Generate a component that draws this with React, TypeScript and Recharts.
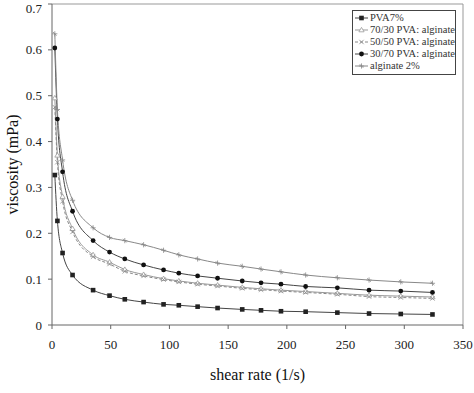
import React from 'react';
import { LineChart, Line, XAxis, YAxis, ReferenceLine } from 'recharts';

const shearRate = [2.4, 4.6, 9, 17.5, 35, 49, 62, 78, 95, 108, 124, 141, 162, 178, 195, 216, 243, 270, 297, 324];
const pva7 = [0.327, 0.227, 0.157, 0.109, 0.076, 0.064, 0.056, 0.05, 0.045, 0.043, 0.04, 0.037, 0.034, 0.032, 0.03, 0.029, 0.027, 0.025, 0.024, 0.023];
const pva7030 = [0.495, 0.37, 0.28, 0.21, 0.153, 0.137, 0.121, 0.11, 0.101, 0.096, 0.091, 0.087, 0.082, 0.079, 0.076, 0.073, 0.069, 0.065, 0.063, 0.061];
const pva5050 = [0.475, 0.355, 0.27, 0.203, 0.149, 0.133, 0.117, 0.107, 0.099, 0.094, 0.089, 0.085, 0.08, 0.077, 0.074, 0.071, 0.067, 0.062, 0.06, 0.058];
const pva3070 = [0.604, 0.449, 0.334, 0.248, 0.184, 0.159, 0.144, 0.131, 0.12, 0.113, 0.107, 0.102, 0.096, 0.092, 0.089, 0.084, 0.081, 0.076, 0.074, 0.071];
const alginate2 = [0.635, 0.47, 0.36, 0.272, 0.212, 0.191, 0.184, 0.175, 0.163, 0.153, 0.144, 0.135, 0.128, 0.122, 0.116, 0.109, 0.103, 0.098, 0.094, 0.091];

const xTicks = [0, 50, 100, 150, 200, 250, 300, 350];
const yTicks = [0, 0.1, 0.2, 0.3, 0.4, 0.5, 0.6, 0.7];

const data = shearRate.map((x, i) => ({
  x,
  pva7: pva7[i],
  p7030: pva7030[i],
  p5050: pva5050[i],
  p3070: pva3070[i],
  alg: alginate2[i],
}));

const font = '"Liberation Serif", "DejaVu Serif", serif';

function marker(kind, cx, cy, color) {
  switch (kind) {
    case 'square':
      return <rect x={cx - 2.3} y={cy - 2.3} width={4.6} height={4.6} fill={color} />;
    case 'circle':
      return <circle cx={cx} cy={cy} r={2.4} fill={color} />;
    case 'triangle':
      return <polygon points={`${cx},${cy - 2.6} ${cx + 2.6},${cy + 1.8} ${cx - 2.6},${cy + 1.8}`} fill="#fff" stroke={color} strokeWidth={0.8} />;
    case 'cross':
      return (
        <g stroke={color} strokeWidth={0.8}>
          <line x1={cx - 2.2} y1={cy - 2.2} x2={cx + 2.2} y2={cy + 2.2} />
          <line x1={cx - 2.2} y1={cy + 2.2} x2={cx + 2.2} y2={cy - 2.2} />
        </g>
      );
    default:
      return (
        <g stroke={color} strokeWidth={0.8}>
          <line x1={cx - 2.6} y1={cy} x2={cx + 2.6} y2={cy} />
          <line x1={cx} y1={cy - 2.6} x2={cx} y2={cy + 2.6} />
          <line x1={cx - 1.8} y1={cy - 1.8} x2={cx + 1.8} y2={cy + 1.8} />
        </g>
      );
  }
}

const series = [
  { key: 'pva7', name: 'PVA7%', color: '#222', line: '#444', kind: 'square', dash: undefined },
  { key: 'p7030', name: '70/30 PVA: alginate', color: '#999', line: '#999', kind: 'triangle', dash: undefined },
  { key: 'p5050', name: '50/50 PVA: alginate', color: '#888', line: '#888', kind: 'cross', dash: '3 2' },
  { key: 'p3070', name: '30/70 PVA: alginate', color: '#111', line: '#444', kind: 'circle', dash: undefined },
  { key: 'alg', name: 'alginate 2%', color: '#888', line: '#888', kind: 'star', dash: undefined },
];

export default function App() {
  return (
    <div style={{ position: 'absolute', left: 0, top: 0, width: 474, height: 393, background: '#fff', fontFamily: font }}>
      <LineChart width={474} height={393} data={data} margin={{ top: 4, right: 11, bottom: 0, left: 0 }}>
        <XAxis
          dataKey="x"
          type="number"
          domain={[0, 350]}
          ticks={xTicks}
          height={68}
          tickSize={4}
          tickMargin={11}
          stroke="#666"
          tick={{ fill: '#222', fontSize: 13, fontFamily: font }}
          label={{ value: 'shear rate (1/s)', position: 'insideBottom', offset: 13, fill: '#111', fontSize: 16, fontFamily: font }}
        />
        <YAxis
          type="number"
          domain={[0, 0.7]}
          ticks={yTicks}
          width={52}
          tickSize={4}
          tickMargin={6}
          stroke="#666"
          tick={{ fill: '#222', fontSize: 13, fontFamily: font }}
          label={{ value: 'viscosity (mPa)', angle: -90, position: 'insideLeft', offset: 12, fill: '#111', fontSize: 16, fontFamily: font, style: { textAnchor: 'middle' } }}
        />
        <ReferenceLine y={0.7} stroke="#999" />
        <ReferenceLine x={350} stroke="#999" />
        {series.map((s) => (
          <Line
            key={s.key}
            dataKey={s.key}
            name={s.name}
            type="monotone"
            stroke={s.line}
            strokeWidth={1}
            strokeDasharray={s.dash}
            isAnimationActive={false}
            dot={(p) => <g key={`${s.key}-${p.index}`}>{marker(s.kind, p.cx, p.cy, s.color)}</g>}
          />
        ))}
      </LineChart>
      <div
        style={{
          position: 'absolute',
          left: 352,
          top: 10,
          width: 100,
          border: '1px solid #444',
          padding: '1px 0 2px 2px',
          fontSize: 10.5,
          lineHeight: '12px',
          fontFamily: font,
          color: '#333',
          background: '#fff',
        }}
      >
        {series.map((s) => (
          <div key={s.key} style={{ display: 'flex', alignItems: 'center', whiteSpace: 'nowrap' }}>
            <svg width={13} height={10} style={{ marginRight: 2 }}>
              <line x1={0} y1={5} x2={13} y2={5} stroke={s.line} strokeDasharray={s.dash} />
              {marker(s.kind, 6.5, 5, s.color)}
            </svg>
            <span style={{ fontFamily: font }}>{s.name}</span>
          </div>
        ))}
      </div>
    </div>
  );
}
